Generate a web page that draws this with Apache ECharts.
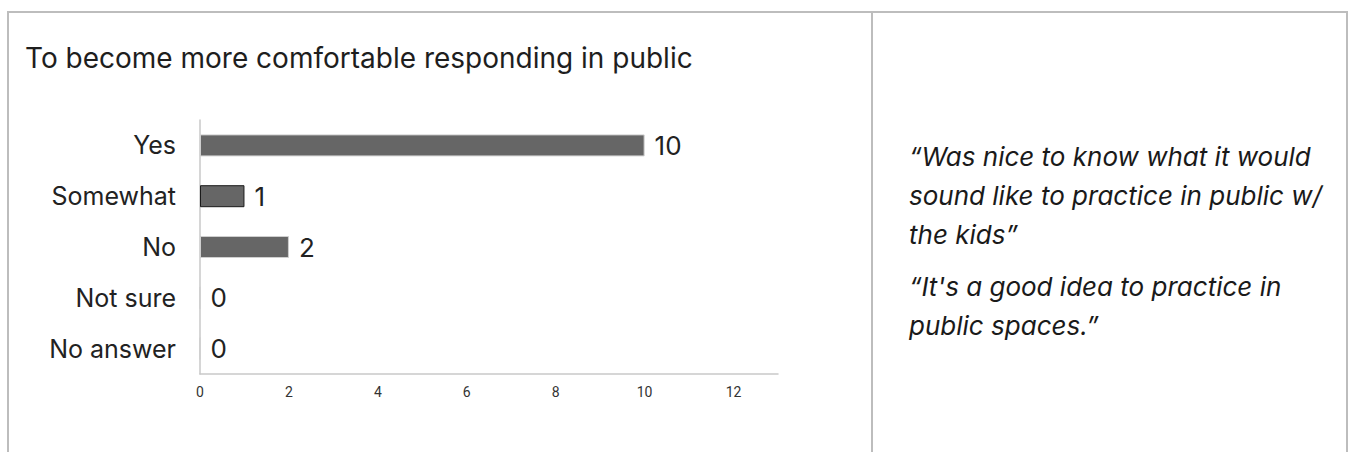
<!DOCTYPE html>
<html>
<head>
<meta charset="utf-8">
<script src="https://cdn.jsdelivr.net/npm/echarts@6/dist/echarts.min.js"></script>
<style>
  html, body { margin: 0; padding: 0; background: #fff; }
  #chart { width: 1352px; height: 452px; }
</style>
</head>
<body>
<div id="chart"></div>
<script>
var titleText = 'To become more comfortable responding in public';
var categories = ['Yes', 'Somewhat', 'No', 'Not sure', 'No answer'];
var counts = [10, 1, 2, 0, 0];
var xTicks = [0, 2, 4, 6, 8, 10, 12];
var quote1 = ['\u201cWas nice to know what it would', 'sound like to practice in public w/', 'the kids\u201d'];
var quote2 = ['\u201cIt\'s a good idea to practice in', 'public spaces.\u201d'];

var chart = echarts.init(document.getElementById('chart'), null, {renderer: 'svg'});

var border = {stroke: '#bdbdbd', lineWidth: 2};
var quoteFont = 'italic 26px Inter, Lato, sans-serif';

// one text element per quote line, y is the middle of the line
function quoteLines(lines, mid){
    return lines.map(function(t, i){
        return {
            type: 'text',
            x: 909,
            y: mid + i * 39,
            style: {text: t, font: quoteFont, fill: '#1a1a1a', verticalAlign: 'middle'}
        };
    });
}

var option = {
    backgroundColor: '#fff',
    animation: false,
    title: {
        text: titleText,
        left: 25,
        top: 44,
        padding: 0,
        textStyle: {
            fontFamily: 'Inter, sans-serif',
            fontSize: 28,
            fontWeight: 'normal',
            color: '#1e1e1e'
        }
    },
    grid: {
        left: 200,
        top: 120,
        width: 578,
        height: 254,
        containLabel: false
    },
    xAxis: {
        type: 'value',
        min: 0,
        max: 13,
        interval: 2,
        splitLine: {show: false},
        axisTick: {show: false},
        axisLine: {show: true, lineStyle: {color: '#c9c9c9', width: 1.5}},
        axisLabel: {
            showMaxLabel: false,
            margin: 11,
            fontFamily: 'Roboto, sans-serif',
            fontSize: 14,
            color: '#333',
            formatter: function(v){ return xTicks.indexOf(v) >= 0 ? String(v) : ''; }
        }
    },
    yAxis: {
        type: 'category',
        inverse: true,
        data: categories,
        axisTick: {show: false},
        splitLine: {show: false},
        axisLine: {show: true, lineStyle: {color: '#c9c9c9', width: 1.5}},
        axisLabel: {
            margin: 24,
            fontFamily: 'Inter, sans-serif',
            fontSize: 25,
            color: '#222'
        }
    },
    series: [{
        type: 'bar',
        barWidth: 22,
        data: counts.map(function(v, i){
            return {
                value: v,
                itemStyle: i === 1 ? {borderColor: '#1a1a1a', borderWidth: 1} : {borderColor: '#cfcfcf', borderWidth: 1}
            };
        }),
        itemStyle: {color: '#666666'},
        label: {
            show: true,
            position: 'right',
            distance: 10,
            fontFamily: 'Inter, sans-serif',
            fontSize: 26,
            color: '#222'
        }
    }],
    graphic: [
        {type: 'line', shape: {x1: 7, y1: 12, x2: 1348, y2: 12}, style: border},
        {type: 'line', shape: {x1: 8, y1: 11, x2: 8, y2: 452}, style: border},
        {type: 'line', shape: {x1: 872, y1: 11, x2: 872, y2: 452}, style: border},
        {type: 'line', shape: {x1: 1347, y1: 11, x2: 1347, y2: 452}, style: border}
    ].concat(quoteLines(quote1, 156)).concat(quoteLines(quote2, 286))
};

chart.setOption(option);
</script>
</body>
</html>
